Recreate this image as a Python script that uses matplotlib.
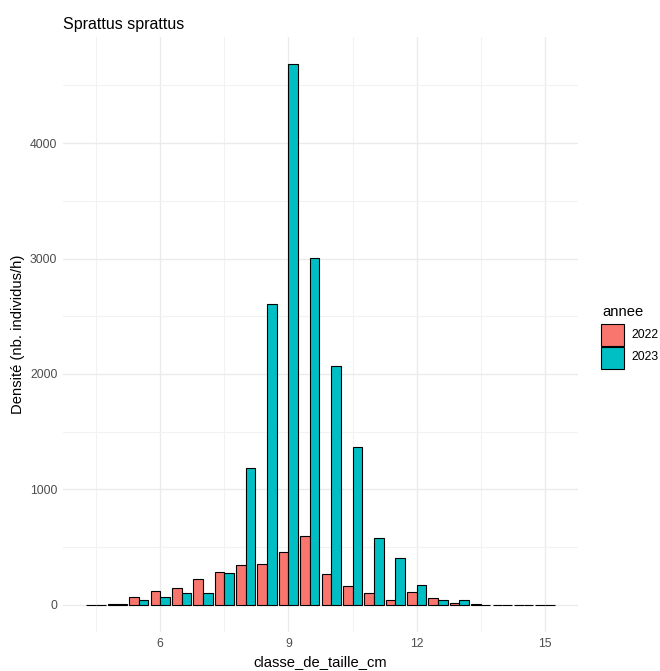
import numpy as np
import matplotlib
matplotlib.use("Agg")
import matplotlib.pyplot as plt
from matplotlib.patches import Rectangle
from matplotlib.ticker import MultipleLocator

plt.rcParams['font.family'] = ['Liberation Sans', 'DejaVu Sans']

# size classes (cm) and densities
classes = [4.5, 5.0, 5.5, 6.0, 6.5, 7.0, 7.5, 8.0, 8.5, 9.0, 9.5,
           10.0, 10.5, 11.0, 11.5, 12.0, 12.5, 13.0, 13.5, 14.0, 14.5, 15.0]
dens_2022 = [3, 8, 72, 125, 150, 229, 287, 348, 357, 455, 593,
             267, 168, 101, 43, 113, 64, 20, 10, 2, 1, 1]
dens_2023 = [2, 10, 43, 72, 107, 107, 278, 1185, 2608, 4684, 3003,
             2069, 1365, 582, 406, 173, 43, 43, 3, 2, 2, 2]
years = ['2022', '2023']
colors = ['#F8766D', '#00BFC4']

x = np.array(classes)
w = 0.225  # 0.9 * 0.5 / 2 series

W, H = 660, 671
fig = plt.figure(figsize=(W / 100, H / 100), dpi=100)
ax = fig.add_axes([63 / W, 1 - 632 / H, 515 / W, 595 / H])

for i, (vals, c) in enumerate(zip([dens_2022, dens_2023], colors)):
    ax.bar(x + (i - 0.5) * w, vals, width=w, color=c,
           edgecolor='black', linewidth=0.8, zorder=3)

span = (x.max() + 0.225) - (x.min() - 0.225)
ax.set_xlim(x.min() - 0.225 - 0.05 * span, x.max() + 0.225 + 0.05 * span)
ymax = max(max(dens_2022), max(dens_2023))
ax.set_ylim(-0.05 * ymax, ymax * 1.05)

ax.xaxis.set_major_locator(MultipleLocator(3))
ax.xaxis.set_minor_locator(MultipleLocator(1.5))
ax.yaxis.set_major_locator(MultipleLocator(1000))
ax.yaxis.set_minor_locator(MultipleLocator(500))
ax.grid(which='major', color='#EBEBEB', linewidth=1.0, zorder=0)
ax.grid(which='minor', color='#F2F2F2', linewidth=0.8, zorder=0)
ax.set_axisbelow(True)
for s in ax.spines.values():
    s.set_visible(False)
ax.tick_params(which='both', length=0, labelsize=8.8, labelcolor='#4D4D4D', pad=4)
ax.set_xticks([6, 9, 12, 15])
ax.set_xticklabels(['6', '9', '12', '15'])

ax.set_xlabel('classe_de_taille_cm', fontsize=10.6, labelpad=4)
ax.set_ylabel('Densité (nb. individus/h)', fontsize=10.6, labelpad=4)
ax.set_title('Sprattus sprattus', fontsize=11.5, loc='left', pad=6)

# legend, ggplot style: stacked square keys with black outline
fig.text(602 / W, 1 - 312 / H, 'annee', fontsize=10.6, va='center', ha='left')
key_top = 324
for i, (yr, c) in enumerate(zip(years, colors)):
    top = key_top + i * 22.5
    fig.patches.append(Rectangle((601 / W, 1 - (top + 22) / H), 23 / W, 22 / H,
                                 transform=fig.transFigure, facecolor=c,
                                 edgecolor='black', linewidth=0.8))
    fig.text(631 / W, 1 - (top + 11) / H, yr, fontsize=8.8, va='center', ha='left')

fig.savefig('out.png', dpi=100)
